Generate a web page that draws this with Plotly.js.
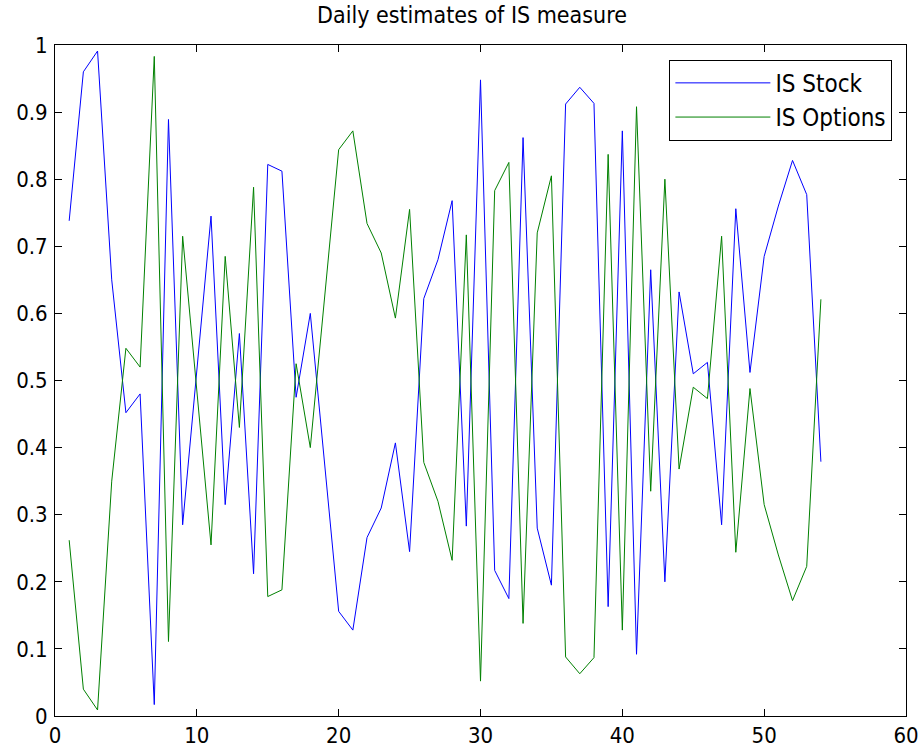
<!DOCTYPE html>
<html>
<head>
<meta charset="utf-8">
<script src="https://cdn.plot.ly/plotly-3.0.1.min.js"></script>
<style>
html, body { margin: 0; padding: 0; background: #ffffff; }
#chart { width: 922px; height: 752px; }
</style>
</head>
<body>
<div id="chart"></div>
<script>
// Day index
const days = [1,2,3,4,5,6,7,8,9,10,11,12,13,14,15,16,17,18,19,20,21,22,23,24,25,26,27,
              28,29,30,31,32,33,34,35,36,37,38,39,40,41,42,43,44,45,46,47,48,49,50,51,52,53,54];

// IS Stock (blue)
const isStock = [0.738,0.960,0.991,0.650,0.452,0.480,0.017,0.889,0.285,0.515,0.745,0.315,0.570,0.212,
                 0.822,0.812,0.475,0.600,0.377,0.156,0.128,0.266,0.310,0.407,0.245,0.622,0.680,0.768,
                 0.283,0.948,0.217,0.175,0.862,0.280,0.195,0.912,0.937,0.913,0.163,0.872,0.092,0.665,
                 0.200,0.632,0.510,0.527,0.285,0.756,0.512,0.685,0.760,0.828,0.777,0.379];

// IS Options (green)
const isOptions = [0.262,0.040,0.009,0.350,0.548,0.520,0.983,0.111,0.715,0.485,0.255,0.685,0.430,0.788,
                   0.178,0.188,0.525,0.400,0.623,0.844,0.872,0.734,0.690,0.593,0.755,0.378,0.320,0.232,
                   0.717,0.052,0.783,0.825,0.138,0.720,0.805,0.088,0.063,0.087,0.837,0.128,0.908,0.335,
                   0.800,0.368,0.490,0.473,0.715,0.244,0.488,0.315,0.240,0.172,0.223,0.621];

const seriesNames = ['IS Stock', 'IS Options'];
const chartTitle = 'Daily estimates of IS measure';
const xTicks = [0,10,20,30,40,50,60];
const yTicks = [0,0.1,0.2,0.3,0.4,0.5,0.6,0.7,0.8,0.9,1];
const yTickText = ['0','0.1','0.2','0.3','0.4','0.5','0.6','0.7','0.8','0.9','1'];

const FONT = '"Liberation Sans Narrow", "DejaVu Sans Condensed", "Liberation Sans", Arial, sans-serif';

const traces = [
  { x: days, y: isStock, type: 'scatter', mode: 'lines', name: seriesNames[0],
    line: { color: '#0000ff', width: 1 } },
  { x: days, y: isOptions, type: 'scatter', mode: 'lines', name: seriesNames[1],
    line: { color: '#008000', width: 1 } }
];

const axisCommon = {
  showline: true, linecolor: '#000000', linewidth: 1, mirror: 'ticks',
  ticks: 'inside', ticklen: 7, tickcolor: '#000000', tickwidth: 1,
  showgrid: false, zeroline: false, fixedrange: true,
  tickfont: { family: FONT, size: 22, color: '#000000' }
};

const layout = {
  width: 922, height: 752,
  margin: { l: 55, r: 16, t: 45, b: 36, pad: 0 },
  paper_bgcolor: '#ffffff', plot_bgcolor: '#ffffff',
  title: { text: chartTitle, x: 0.49, xref: 'paper', xanchor: 'center',
           y: 0.980, yref: 'container', yanchor: 'middle',
           font: { family: FONT, size: 23, color: '#000000' } },
  xaxis: Object.assign({}, axisCommon, { range: [0, 60], tickvals: xTicks, ticktext: xTicks.map(String) }),
  yaxis: Object.assign({}, axisCommon, { range: [0, 1], tickvals: yTicks, ticktext: yTickText, ticklabelstandoff: 2 }),
  showlegend: true,
  legend: { x: 0.984, xanchor: 'right', y: 0.978, yanchor: 'top',
            bgcolor: '#ffffff', bordercolor: '#000000', borderwidth: 1,
            font: { family: FONT, size: 24, color: '#000000' },
            itemwidth: 95, tracegroupgap: 0 }
};

Plotly.newPlot('chart', traces, layout, { displayModeBar: false, staticPlot: true });
</script>
</body>
</html>
